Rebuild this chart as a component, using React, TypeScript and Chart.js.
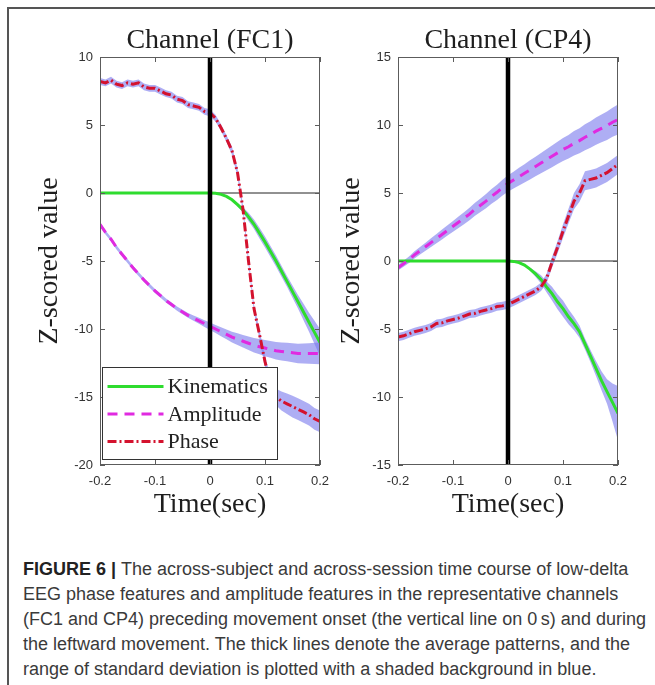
import React, { useEffect, useRef } from "react";
import { Chart, registerables } from "chart.js";

Chart.register(...registerables);

// Time axis (seconds relative to movement onset)
const TIME_SEC = [
  -0.2, -0.19, -0.18, -0.17, -0.16, -0.15, -0.14, -0.13, -0.12, -0.11, -0.1,
  -0.09, -0.08, -0.07, -0.06, -0.05, -0.04, -0.03, -0.02, -0.01, 0,
  0.01, 0.02, 0.03, 0.04, 0.05, 0.06, 0.07, 0.08, 0.09, 0.1,
  0.11, 0.12, 0.13, 0.14, 0.15, 0.16, 0.17, 0.18, 0.19, 0.2,
];

const X_TICKS = [-0.2, -0.1, 0, 0.1, 0.2];
const FC1_Y_TICKS = [-20, -15, -10, -5, 0, 5, 10];
const CP4_Y_TICKS = [-15, -10, -5, 0, 5, 10, 15];

// Channel FC1
const FC1_KIN_MEAN = [
  0, 0, 0, 0, 0, 0, 0, 0, 0, 0, 0, 0, 0, 0, 0, 0, 0, 0, 0, 0, 0,
  -0.02, -0.1, -0.25, -0.5, -0.85, -1.25, -1.75, -2.3, -2.95, -3.6,
  -4.3, -5.0, -5.75, -6.5, -7.25, -8.0, -8.75, -9.5, -10.25, -11.0,
];
const FC1_KIN_SD = [
  0, 0, 0, 0, 0, 0, 0, 0, 0, 0, 0, 0, 0, 0, 0, 0, 0, 0, 0, 0, 0,
  0, 0, 0, 0.05, 0.1, 0.2, 0.3, 0.35, 0.4, 0.4,
  0.4, 0.4, 0.4, 0.4, 0.45, 0.5, 0.6, 0.7, 0.85, 1.0,
];
const FC1_AMP_MEAN = [
  -2.3, -2.9, -3.4, -4.0, -4.5, -5.0, -5.5, -5.95, -6.4, -6.8, -7.2,
  -7.55, -7.9, -8.2, -8.5, -8.75, -9.0, -9.2, -9.4, -9.6, -9.8,
  -10.0, -10.2, -10.4, -10.6, -10.75, -10.9, -11.05, -11.2, -11.3, -11.4,
  -11.5, -11.6, -11.65, -11.7, -11.75, -11.8, -11.8, -11.8, -11.8, -11.8,
];
const FC1_AMP_SD = [
  0.15, 0.15, 0.15, 0.15, 0.15, 0.15, 0.15, 0.15, 0.15, 0.15, 0.15,
  0.15, 0.15, 0.15, 0.15, 0.16, 0.18, 0.2, 0.22, 0.25, 0.28,
  0.3, 0.33, 0.36, 0.4, 0.43, 0.46, 0.5, 0.53, 0.56, 0.6,
  0.62, 0.64, 0.66, 0.68, 0.7, 0.72, 0.74, 0.76, 0.78, 0.8,
];
const FC1_PH_MEAN = [
  8.2, 8.1, 8.3, 8.0, 7.9, 8.1, 8.0, 8.1, 7.8, 7.7, 7.7,
  7.5, 7.3, 7.2, 6.9, 6.8, 6.5, 6.4, 6.3, 6.0, 5.9,
  5.5, 4.8, 4.0, 3.1, 1.5, -1.2, -5.0, -8.5, -10.4, -12.4,
  -14.0, -15.0, -15.3, -15.5, -15.7, -15.9, -16.1, -16.3, -16.6, -16.8,
];
const FC1_PH_SD = [
  0.25, 0.25, 0.25, 0.25, 0.25, 0.25, 0.25, 0.25, 0.25, 0.25, 0.25,
  0.25, 0.25, 0.25, 0.25, 0.25, 0.25, 0.25, 0.25, 0.25, 0.25,
  0.25, 0.25, 0.25, 0.3, 0.3, 0.3, 0.3, 0.3, 0.35, 0.4,
  0.5, 0.6, 0.7, 0.75, 0.8, 0.8, 0.8, 0.8, 0.8, 0.8,
];

// Channel CP4
const CP4_KIN_MEAN = [
  0, 0, 0, 0, 0, 0, 0, 0, 0, 0, 0, 0, 0, 0, 0, 0, 0, 0, 0, 0, 0,
  -0.03, -0.12, -0.3, -0.6, -0.95, -1.35, -1.9, -2.4, -3.0, -3.5,
  -4.1, -4.6, -5.2, -6.1, -7.0, -7.9, -8.8, -9.6, -10.4, -11.2,
];
const CP4_KIN_SD = [
  0, 0, 0, 0, 0, 0, 0, 0, 0, 0, 0, 0, 0, 0, 0, 0, 0, 0, 0, 0, 0,
  0, 0, 0.05, 0.1, 0.2, 0.3, 0.4, 0.5, 0.55, 0.6,
  0.55, 0.5, 0.45, 0.4, 0.45, 0.55, 0.7, 0.9, 1.4, 2.0,
];
const CP4_AMP_MEAN = [
  -0.5, -0.2, 0.1, 0.45, 0.75, 1.05, 1.35, 1.65, 1.95, 2.25, 2.55,
  2.85, 3.15, 3.45, 3.8, 4.1, 4.4, 4.75, 5.05, 5.4, 5.7,
  5.95, 6.2, 6.45, 6.7, 6.95, 7.2, 7.45, 7.7, 7.95, 8.2,
  8.4, 8.65, 8.85, 9.1, 9.3, 9.55, 9.75, 9.95, 10.2, 10.4,
];
const CP4_AMP_SD = [
  0.2, 0.22, 0.24, 0.26, 0.28, 0.3, 0.32, 0.34, 0.36, 0.38, 0.4,
  0.42, 0.44, 0.46, 0.48, 0.5, 0.52, 0.54, 0.56, 0.58, 0.6,
  0.62, 0.65, 0.67, 0.7, 0.72, 0.75, 0.77, 0.8, 0.82, 0.85,
  0.87, 0.9, 0.92, 0.95, 0.97, 1.0, 1.02, 1.05, 1.07, 1.1,
];
const CP4_PH_MEAN = [
  -5.6, -5.5, -5.35, -5.2, -5.1, -5.0, -4.85, -4.6, -4.55, -4.4, -4.3,
  -4.2, -4.05, -3.9, -3.85, -3.7, -3.6, -3.5, -3.35, -3.3, -3.2,
  -3.0, -2.8, -2.6, -2.4, -2.2, -1.9, -1.3, -0.1, 1.0, 2.2,
  3.3, 4.4, 5.0, 5.9, 6.0, 6.1, 6.3, 6.5, 6.8, 7.1,
];
const CP4_PH_SD = [
  0.3, 0.3, 0.3, 0.3, 0.3, 0.3, 0.3, 0.3, 0.3, 0.3, 0.3,
  0.3, 0.3, 0.3, 0.3, 0.3, 0.3, 0.3, 0.3, 0.3, 0.3,
  0.3, 0.3, 0.3, 0.3, 0.3, 0.3, 0.35, 0.4, 0.45, 0.5,
  0.55, 0.6, 0.65, 0.7, 0.7, 0.7, 0.7, 0.7, 0.7, 0.7,
];

const SERIES_NAMES = ["Kinematics", "Amplitude", "Phase"];
const SERIES_COLORS = ["#2edc2e", "#e02ae0", "#d4122e"];
const SERIES_DASH: number[][] = [[], [10, 7], [9, 3, 2, 3]];
const BAND_COLOR = "rgba(120,120,236,0.6)";

const SERIF = "'Liberation Serif', 'Times New Roman', serif";
const SANS = "'Liberation Sans', Arial, sans-serif";

type Panel = {
  title: string;
  yMin: number;
  yMax: number;
  yTicks: number[];
  means: number[][];
  sds: number[][];
  legend: boolean;
  yAxisWidth: number;
  yTitlePad: number;
  rightPad: number;
};

const pts = (ys: number[]) => TIME_SEC.map((t, i) => ({ x: t, y: ys[i] }));

// Panel title centred over the plot box, axes box, inward tick marks and inset legend
const axesBoxPlugin = {
  id: "axesBox",
  afterDatasetsDraw(chart: any, _args: any, opts: any) {
    const { ctx, chartArea: a, scales } = chart;
    const xs = scales.x;
    const ys = scales.y;
    const L = 5;
    ctx.save();
    ctx.strokeStyle = "#5c5c5c";
    ctx.lineWidth = 1;
    ctx.beginPath();
    xs.ticks.forEach((t: any) => {
      const px = Math.round(xs.getPixelForValue(t.value)) + 0.5;
      ctx.moveTo(px, a.bottom);
      ctx.lineTo(px, a.bottom - L);
      ctx.moveTo(px, a.top);
      ctx.lineTo(px, a.top + L);
    });
    ys.ticks.forEach((t: any) => {
      const py = Math.round(ys.getPixelForValue(t.value)) + 0.5;
      ctx.moveTo(a.left, py);
      ctx.lineTo(a.left + L, py);
      ctx.moveTo(a.right, py);
      ctx.lineTo(a.right - L, py);
    });
    ctx.stroke();
    ctx.strokeRect(a.left + 0.5, a.top + 0.5, a.right - a.left - 1, a.bottom - a.top - 1);

    if (opts && opts.legend) {
      const w = 175;
      const h = 92;
      const lx = a.left + 2.5;
      const ly = a.bottom - 5.5 - h;
      ctx.fillStyle = "#ffffff";
      ctx.fillRect(lx, ly, w, h);
      ctx.strokeStyle = "#333333";
      ctx.strokeRect(lx, ly, w, h);
      const entries = chart.data.datasets.filter((d: any) => d.legendEntry);
      ctx.font = `normal normal 22px ${SERIF}`;
      ctx.textBaseline = "middle";
      ctx.textAlign = "left";
      entries.forEach((d: any, i: number) => {
        const ry = ly + 19 + i * 27.5;
        ctx.save();
        ctx.strokeStyle = d.borderColor;
        ctx.lineWidth = d.borderWidth;
        ctx.setLineDash(d.borderDash || []);
        ctx.beginPath();
        ctx.moveTo(lx + 5, ry);
        ctx.lineTo(lx + 61, ry);
        ctx.stroke();
        ctx.restore();
        ctx.fillStyle = "#222222";
        ctx.fillText(d.label, lx + 65, ry + 1);
      });
    }

    if (opts && opts.title) {
      ctx.font = `normal normal 28px ${SERIF}`;
      ctx.fillStyle = "#1e1e1e";
      ctx.textAlign = "center";
      ctx.textBaseline = "alphabetic";
      ctx.fillText(opts.title, (a.left + a.right) / 2, opts.titleBaseline);
    }
    ctx.restore();
  },
};

function buildConfig(p: Panel): any {
  const datasets: any[] = [];
  // shaded standard-deviation bands
  p.means.forEach((m, s) => {
    const sd = p.sds[s];
    datasets.push({
      label: SERIES_NAMES[s] + " +sd",
      data: pts(m.map((v, i) => v + sd[i])),
      borderWidth: 0,
      pointRadius: 0,
      backgroundColor: BAND_COLOR,
      fill: "+1",
      order: 20,
    });
    datasets.push({
      label: SERIES_NAMES[s] + " -sd",
      data: pts(m.map((v, i) => v - sd[i])),
      borderWidth: 0,
      pointRadius: 0,
      fill: false,
      order: 20,
    });
  });
  // zero reference line
  datasets.push({
    label: "zero",
    data: [
      { x: X_TICKS[0], y: 0 },
      { x: X_TICKS[X_TICKS.length - 1], y: 0 },
    ],
    borderColor: "#222222",
    borderWidth: 1,
    pointRadius: 0,
    fill: false,
    order: 15,
  });
  // mean curves
  p.means.forEach((m, s) => {
    datasets.push({
      label: SERIES_NAMES[s],
      legendEntry: true,
      data: pts(m),
      borderColor: SERIES_COLORS[s],
      borderWidth: 3,
      borderDash: SERIES_DASH[s],
      pointRadius: 0,
      fill: false,
      order: 10 - s * 2,
    });
  });
  // movement onset marker
  datasets.push({
    label: "onset",
    data: [
      { x: 0, y: p.yMin },
      { x: 0, y: p.yMax },
    ],
    borderColor: "#000000",
    borderWidth: 4.5,
    pointRadius: 0,
    fill: false,
    order: 0,
  });

  return {
    type: "line",
    data: { datasets },
    options: {
      responsive: false,
      animation: false,
      events: [],
      layout: { padding: { left: 0, right: p.rightPad, top: 57, bottom: 0 } },
      plugins: {
        legend: { display: false },
        tooltip: { enabled: false },
        title: { display: false },
        axesBox: { legend: p.legend, title: p.title, titleBaseline: 48 },
      },
      scales: {
        x: {
          type: "linear",
          min: X_TICKS[0],
          max: X_TICKS[X_TICKS.length - 1],
          afterFit: (sc: any) => {
            sc.height = 75;
            sc.paddingLeft = 0;
            sc.paddingRight = 0;
          },
          afterBuildTicks: (sc: any) => {
            sc.ticks = X_TICKS.map((v) => ({ value: v }));
          },
          grid: { display: false, drawTicks: false },
          border: { display: false },
          ticks: {
            padding: 9,
            color: "#333333",
            font: { family: SANS, size: 13 },
            maxRotation: 0,
            callback: (v: any) => String(Math.round(Number(v) * 10) / 10),
          },
          title: {
            display: true,
            text: "Time(sec)",
            color: "#1e1e1e",
            font: { family: SERIF, size: 28, weight: "normal", lineHeight: 1.2 },
            padding: { top: 0, bottom: 19 },
          },
        },
        y: {
          type: "linear",
          min: p.yMin,
          max: p.yMax,
          afterFit: (sc: any) => {
            sc.width = p.yAxisWidth;
            sc.paddingTop = 0;
            sc.paddingBottom = 0;
          },
          afterBuildTicks: (sc: any) => {
            sc.ticks = p.yTicks.map((v) => ({ value: v }));
          },
          grid: { display: false, drawTicks: false },
          border: { display: false },
          ticks: {
            padding: 7,
            color: "#333333",
            font: { family: SANS, size: 13 },
            callback: (v: any) => String(v),
          },
          title: {
            display: true,
            text: "Z-scored value",
            color: "#1e1e1e",
            font: { family: SERIF, size: 28, weight: "normal", lineHeight: 1.2 },
            padding: { top: p.yTitlePad, bottom: 0 },
          },
        },
      },
    },
    plugins: [axesBoxPlugin],
  };
}

function PanelChart(props: { panel: Panel; left: number; width: number }) {
  const ref = useRef<HTMLCanvasElement | null>(null);
  useEffect(() => {
    if (!ref.current) return;
    const chart = new Chart(ref.current, buildConfig(props.panel));
    return () => chart.destroy();
  }, []);
  return (
    <canvas
      ref={ref}
      width={props.width}
      height={540}
      style={{ position: "absolute", left: props.left, top: 0, width: props.width, height: 540 }}
    />
  );
}

const FC1_PANEL: Panel = {
  title: "Channel (FC1)",
  yMin: -20,
  yMax: 10,
  yTicks: FC1_Y_TICKS,
  means: [FC1_KIN_MEAN, FC1_AMP_MEAN, FC1_PH_MEAN],
  sds: [FC1_KIN_SD, FC1_AMP_SD, FC1_PH_SD],
  legend: true,
  yAxisWidth: 100,
  yTitlePad: 33,
  rightPad: 10,
};

const CP4_PANEL: Panel = {
  title: "Channel (CP4)",
  yMin: -15,
  yMax: 15,
  yTicks: CP4_Y_TICKS,
  means: [CP4_KIN_MEAN, CP4_AMP_MEAN, CP4_PH_MEAN],
  sds: [CP4_KIN_SD, CP4_AMP_SD, CP4_PH_SD],
  legend: false,
  yAxisWidth: 68,
  yTitlePad: 5,
  rightPad: 37,
};

const CAPTION_LINES = [
  "The across-subject and across-session time course of low-delta",
  "EEG phase features and amplitude features in the representative channels",
  "(FC1 and CP4) preceding movement onset (the vertical line on 0\u2009s) and during",
  "the leftward movement. The thick lines denote the average patterns, and the",
  "range of standard deviation is plotted with a shaded background in blue.",
];

export default function App() {
  return (
    <div
      style={{
        position: "absolute",
        left: 0,
        top: 0,
        width: 655,
        height: 685,
        background: "#ffffff",
        overflow: "hidden",
      }}
    >
      <div
        style={{
          position: "absolute",
          left: 7,
          top: 7,
          width: 660,
          height: 700,
          borderTop: "2px solid #555555",
          borderLeft: "2px solid #555555",
        }}
      />
      <PanelChart panel={FC1_PANEL} left={0} width={330} />
      <PanelChart panel={CP4_PANEL} left={330} width={325} />
      <div
        style={{
          position: "absolute",
          left: 23,
          top: 557,
          fontFamily: SANS,
          fontSize: 18,
          lineHeight: "25px",
          color: "#3a3a3a",
          whiteSpace: "nowrap",
        }}
      >
        {CAPTION_LINES.map((line, i) => (
          <div key={i}>
            {i === 0 ? (
              <span style={{ fontWeight: "bold", color: "#222222" }}>FIGURE 6 | </span>
            ) : null}
            {line}
          </div>
        ))}
      </div>
    </div>
  );
}
